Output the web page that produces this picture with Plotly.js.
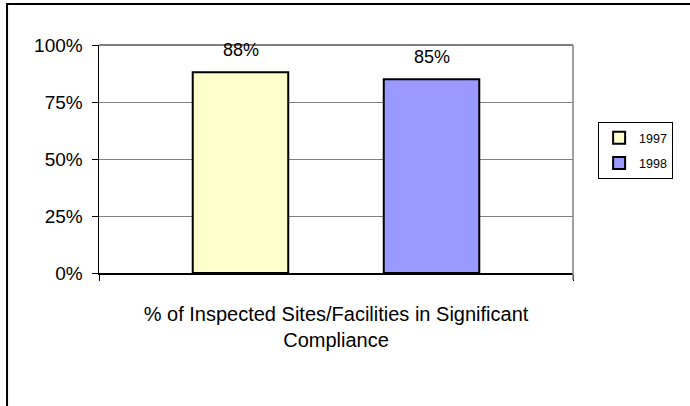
<!DOCTYPE html>
<html>
<head>
<meta charset="utf-8">
<script src="https://cdn.plot.ly/plotly-3.0.1.min.js"></script>
<style>html,body{margin:0;padding:0;background:#fff;}</style>
</head>
<body>
<div id="chart" style="width:690px;height:406px;"></div>
<script>
const categories = ["% of Inspected Sites/Facilities in Significant<br>Compliance"];
const seriesNames = ["1997", "1998"];
const values1997 = [0.88];
const values1998 = [0.85];
const yTickVals = [0, 0.25, 0.5, 0.75, 1];
const yTickText = ["0%", "25%", "50%", "75%", "100%"];

const colors = ["#FFFFCC", "#9999FF"];
const seriesValues = [values1997, values1998];
const FONT = "Liberation Sans, Arial, sans-serif";

const traces = seriesValues.map((vals, i) => ({
  type: "bar",
  name: seriesNames[i],
  legendgroup: seriesNames[i],
  x: categories,
  y: vals,
  marker: {color: colors[i], line: {color: "#000", width: 2}},
  hoverinfo: "none"
}));

const xshifts = [-95.5, 95.5];
const annotations = [];
seriesValues.forEach((vals, i) => {
  vals.forEach((v, j) => {
    annotations.push({
      x: categories[j], y: v, xref: "x", yref: "y",
      text: Math.round(v * 100) + "%",
      showarrow: false, xshift: xshifts[i], yshift: 10, yanchor: "bottom",
      font: {family: FONT, size: 18, color: "#000"}
    });
  });
});

const layout = {
  width: 690, height: 406,
  margin: {l: 99, r: 117, t: 45, b: 133},
  paper_bgcolor: "#fff", plot_bgcolor: "#fff",
  barmode: "group", bargap: 0.194, bargroupgap: 0.5,
  showlegend: true,
  legend: {
    x: 1.053, xanchor: "left", y: 0.412, yanchor: "bottom",
    bordercolor: "#000", borderwidth: 1, bgcolor: "#fff",
    font: {family: FONT, size: 12.5, color: "#000"},
    itemwidth: 30, tracegroupgap: 6
  },
  xaxis: {
    type: "category", tickson: "boundaries", ticks: "outside", ticklen: 6,
    tickcolor: "#000", showline: true, linecolor: "#000", linewidth: 1.5,
    mirror: false, showgrid: false, zeroline: false,
    ticklabelstandoff: 22,
    tickfont: {family: FONT, size: 20, color: "#000"}
  },
  yaxis: {
    range: [0, 1], tickvals: yTickVals, ticktext: yTickText,
    ticks: "outside", ticklen: 6, tickcolor: "#000",
    showline: true, linecolor: "#000", linewidth: 1.5,
    showgrid: true, gridcolor: "#808080", gridwidth: 1, zeroline: false,
    ticklabelstandoff: 5,
    tickfont: {family: FONT, size: 19, color: "#000"}
  },
  annotations: annotations,
  shapes: [
    {type: "line", xref: "paper", yref: "paper", x0: 0, x1: 1, y0: 1, y1: 1,
     line: {color: "#000", width: 1.2}},
    {type: "line", xref: "paper", yref: "paper", x0: 1, x1: 1, y0: -0.03, y1: 1,
     line: {color: "#808080", width: 1.5}},
    {type: "rect", xref: "paper", yref: "paper", x0: -0.194, x1: 1.3, y0: -0.7, y1: 1.18,
     line: {color: "#000", width: 2}}
  ]
};

Plotly.newPlot("chart", traces, layout, {displayModeBar: false, staticPlot: true});
</script>
</body>
</html>
